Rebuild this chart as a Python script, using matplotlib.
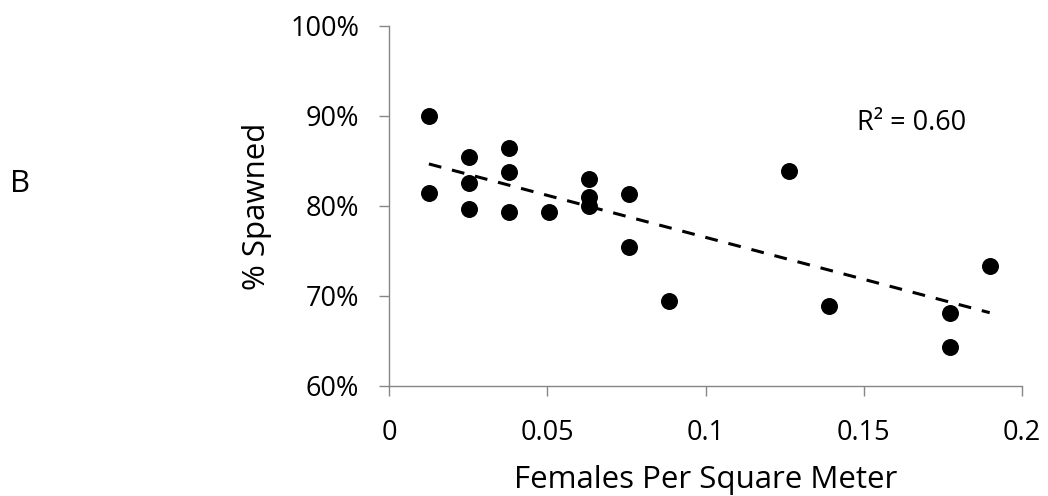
import numpy as np
import matplotlib
matplotlib.use("Agg")
import matplotlib.pyplot as plt
from matplotlib.ticker import PercentFormatter, MultipleLocator

plt.rcParams['font.family'] = ['Open Sans', 'DejaVu Sans']

# Data
females_per_m2 = [0.0126, 0.0126, 0.0253, 0.0253, 0.0253, 0.0379, 0.0379, 0.0379,
                  0.0506, 0.0632, 0.0632, 0.0632, 0.0759, 0.0759, 0.0885,
                  0.1265, 0.1391, 0.1771, 0.1771, 0.1898]
pct_spawned = [0.900, 0.814, 0.855, 0.826, 0.797, 0.864, 0.838, 0.793,
               0.793, 0.830, 0.810, 0.800, 0.813, 0.754, 0.694,
               0.839, 0.689, 0.681, 0.643, 0.733]
r2_label = "R² = 0.60"
x_ticks = [0, 0.05, 0.1, 0.15, 0.2]
x_tick_labels = ["0", "0.05", "0.1", "0.15", "0.2"]
x_title = "Females Per Square Meter"
y_title = "% Spawned"
panel_label = "B"

W, H = 1048, 496
fig = plt.figure(figsize=(W / 100, H / 100), dpi=100)
ax = fig.add_axes([389 / W, 1 - 386 / H, (1022 - 389) / W, 360 / H])

x = np.array(females_per_m2)
y = np.array(pct_spawned)
ax.plot(x, y, linestyle='none', marker='o', markersize=11.2,
        markerfacecolor='black', markeredgecolor='black', zorder=3)

# linear trend line computed from the data
slope, intercept = np.polyfit(x, y, 1)
xs = np.array([x.min(), x.max()])
ax.plot(xs, slope * xs + intercept, color='black', linewidth=2.2,
        linestyle=(0, (4.2, 3.6)), zorder=2)

ax.set_xlim(0, 0.2)
ax.set_ylim(0.6, 1.0)
ax.set_xticks(x_ticks)
ax.set_xticklabels(x_tick_labels)
ax.yaxis.set_major_locator(MultipleLocator(0.1))
ax.yaxis.set_major_formatter(PercentFormatter(1.0, decimals=0))

for s in ['top', 'right']:
    ax.spines[s].set_visible(False)
for s in ['left', 'bottom']:
    ax.spines[s].set_color('#868686')
    ax.spines[s].set_linewidth(1.0)

ax.tick_params(axis='both', direction='out', length=7, width=1.0,
               color='#868686', labelsize=19.5, labelcolor='black')
ax.tick_params(axis='y', pad=14.5)
ax.tick_params(axis='x', pad=16.5)

ax.set_xlabel(x_title, fontsize=22.5)
ax.xaxis.label.set_va('baseline')
ax.xaxis.set_label_coords(0.5, (386 - 488) / 360)

ax.set_ylabel(y_title, fontsize=22.5)
ax.yaxis.label.set_va('center')
ax.yaxis.set_label_coords((257.5 - 389) / 633, 0.5)

ax.text(0.148, 0.885, r2_label, fontsize=19.5, va='baseline', ha='left')

fig.text(10 / W, 1 - 192 / H, panel_label, fontsize=22.5, va='baseline', ha='left')

fig.savefig('out.png', dpi=100)
